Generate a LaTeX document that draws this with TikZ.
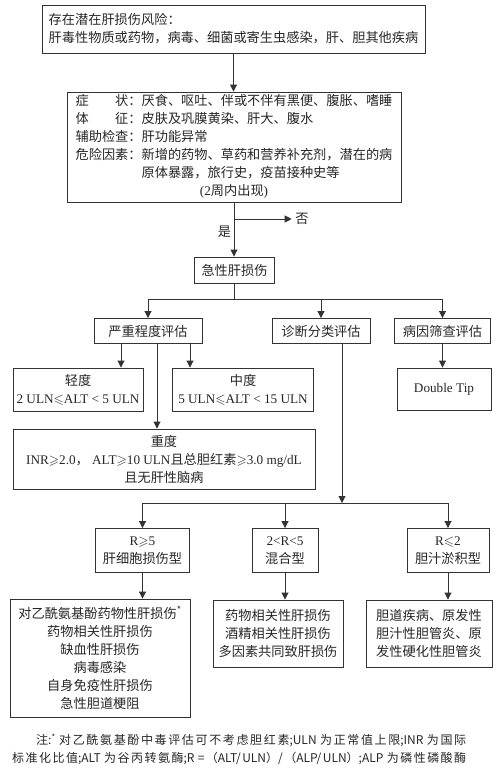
\documentclass[tikz,border=0pt]{standalone}
\usepackage{amssymb}
\usepackage{fontspec}
\setmainfont{Liberation Serif}
\newfontfamily\cjk{Noto Sans CJK SC}
\usetikzlibrary{arrows.meta}
\tikzset{flowfont/.style={text=black!85,font=\cjk\fontsize{13.2}{18}\selectfont}}
\def\flowbox{\node[draw=black!80,line width=0.9pt,flowfont,align=center,inner sep=0pt]}
\def\flowlabel{\node[flowfont,inner sep=3.5pt]}
\def\flowarrow{\draw[black!80,line width=0.9pt,-{Triangle[length=7pt,width=7pt]}]}
\def\flowline{\draw[black!80,line width=0.9pt]}
\newcommand{\lat}[1]{{\rmfamily #1}}

\begin{document}
\begin{tikzpicture}[x=1pt,y=-1pt]
\useasboundingbox (0,0) rectangle (500,771);
\flowbox (risk) [minimum width=383pt,minimum height=48pt,align=left] at (233.5,29) {存在潜在肝损伤风险：\\肝毒性物质或药物，病毒、细菌或寄生虫感染，肝、胆其他疾病};
\flowbox (sympt) [minimum width=334pt,minimum height=110pt] at (234,147) {\begin{tabular}{@{}l@{}l@{}}
症　　状：&厌食、呕吐、伴或不伴有黑便、腹胀、嗜睡\\
体　　征：&皮肤及巩膜黄染、肝大、腹水\\
辅助检查：&肝功能异常\\
危险因素：&新增的药物、草药和营养补充剂，潜在的病\\
&原体暴露，旅行史，疫苗接种史等\\
\multicolumn{2}{c}{\lat{(2}周内出现\lat{)}}
\end{tabular}};
\flowbox (acute) [minimum width=80pt,minimum height=26pt] at (234.5,270) {急性肝损伤};
\flowbox (sev) [minimum width=108pt,minimum height=25pt] at (148,331) {严重程度评估};
\flowbox (diag) [minimum width=98pt,minimum height=25pt] at (321,331) {诊断分类评估};
\flowbox (cause) [minimum width=96pt,minimum height=25pt] at (442.5,331) {病因筛查评估};
\flowbox (mild) [minimum width=130pt,minimum height=43pt] at (78,389.5) {轻度\\\lat{2 ULN$\leqslant$ALT < 5 ULN}};
\flowbox (moder) [minimum width=141pt,minimum height=43pt] at (243,389.5) {中度\\\lat{5 ULN$\leqslant$ALT < 15 ULN}};
\flowbox (tip) [minimum width=94pt,minimum height=42pt] at (444,389) {\lat{Double Tip}};
\flowbox (severe) [minimum width=302pt,minimum height=60pt] at (164,459) {重度\\\lat{INR$\geqslant$2.0}，\lat{\ ALT$\geqslant$10 ULN}且总胆红素\lat{$\geqslant$3.0 mg/dL}\\且无肝性脑病};
\flowbox (hep) [minimum width=94pt,minimum height=44pt] at (142.5,550.5) {\lat{R$\geqslant$5}\\肝细胞损伤型};
\flowbox (mixed) [minimum width=66pt,minimum height=44pt] at (285,550.5) {\lat{2<R<5}\\混合型};
\flowbox (chol) [minimum width=82pt,minimum height=44pt] at (448,550.5) {\lat{R$\leqslant$2}\\胆汁淤积型};
\flowbox (hepc) [minimum width=180pt,minimum height=118pt] at (100,658) {对乙酰氨基酚药物性肝损伤\textsuperscript{*}\\药物相关性肝损伤\\缺血性肝损伤\\病毒感染\\自身免疫性肝损伤\\急性胆道梗阻};
\flowbox (mixc) [minimum width=130pt,minimum height=67pt] at (278,633.5) {药物相关性肝损伤\\酒精相关性肝损伤\\多因素共同致肝损伤};
\flowbox (cholc) [minimum width=126pt,minimum height=67pt] at (429,633.5) {胆道疾病、原发性\\胆汁性胆管炎、原\\发性硬化性胆管炎};
\flowlabel (no) at (302,219) {否};
\coordinate (split) at (234.5,299);
\coordinate (split2) at (342,503);
\coordinate (sevL) at ([xshift=-27pt]sev.south);
\coordinate (sevM) at ([xshift=9pt]sev.south);
\coordinate (sevR) at ([xshift=42pt]sev.south);
\coordinate (diagR) at ([xshift=21pt]diag.south);
\flowarrow (risk.south) -- (risk.south |- sympt.north);
\flowarrow (sympt.south) -- node (yes) [pos=0.55,left,flowfont,inner sep=2.5pt] {是} (sympt.south |- acute.north);
\flowarrow (sympt.south |- no) -- (no.west);
\flowline (acute.south) -- (split);
\flowline (sev.north |- split) -- (cause.north |- split);
\flowarrow (sev.north |- split) -- (sev.north);
\flowarrow (diag.north |- split) -- (diag.north);
\flowarrow (cause.north |- split) -- (cause.north);
\flowarrow (sevL) -- (sevL |- mild.north);
\flowarrow (sevM) -- (sevM |- severe.north);
\flowarrow (sevR) -- (sevR |- moder.north);
\flowarrow (cause.south) -- (cause.south |- tip.north);
\flowarrow (diagR) -- (split2);
\flowline (hep.north |- split2) -- (chol.north |- split2);
\flowarrow (hep.north |- split2) -- (hep.north);
\flowarrow (mixed.north |- split2) -- (mixed.north);
\flowarrow (chol.north |- split2) -- (chol.north);
\flowarrow (hep.south) -- (hep.south |- hepc.north);
\flowarrow (mixed.south) -- (mixed.south |- mixc.north);
\flowarrow (chol.south) -- (chol.south |- cholc.north);
\node (note) [anchor=north west,text width=454pt,align=justify,inner sep=0pt,text=black!85,font=\cjk\fontsize{12}{17.5}\selectfont] at (12,734) {\XeTeXlinebreaklocale "zh"\XeTeXlinebreakskip=0pt plus 3pt\parfillskip=0pt\hspace*{24pt}注:\textsuperscript{*} 对乙酰氨基酚中毒评估可不考虑胆红素;ULN 为正常值上限;INR 为国际\linebreak 标准化比值;ALT 为谷丙转氨酶;R =（ALT/ULN）/（ALP/ULN）;ALP 为磷性磷酸酶\par};
\end{tikzpicture}
\end{document}
